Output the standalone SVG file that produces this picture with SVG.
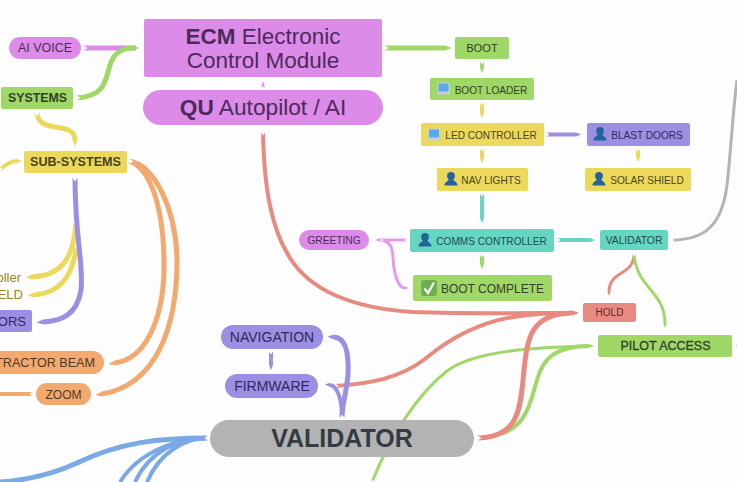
<svg xmlns="http://www.w3.org/2000/svg" width="737" height="482" viewBox="0 0 737 482">
<style>
text{font-family:"Liberation Sans",Arial,sans-serif;text-anchor:middle}
.end{text-anchor:end}
.c{fill:none;stroke-linecap:butt;marker-start:url(#notch)}
.w5{stroke-width:5}.w4{stroke-width:4}.w3{stroke-width:3}
.pk{stroke:#e59bec;marker-end:url(#t-pk)}
.gr{stroke:#9fd867;marker-end:url(#t-gr)}.ye{stroke:#ecd95c;marker-end:url(#t-ye)}.or{stroke:#f3a86d;marker-end:url(#t-or)}.vi{stroke:#9b8fe3;marker-end:url(#t-vi)}.te{stroke:#66d6c0;marker-end:url(#t-te)}.re{stroke:#e98a80;marker-end:url(#t-re)}.bl{stroke:#7aa9e6}.gy{stroke:#b3b3b3}
.fp{fill:#dc8be8}.fg{fill:#9fd867}.fy{fill:#ecd95c}.fo{fill:#f3a86d}.fv{fill:#9b8fe3}.ft{fill:#66d6c0}.fr{fill:#e98a80}.fa{fill:#b3b3b3}
.tp{fill:#4d2a5c}.tg{fill:#33402a}.ty{fill:#4a4320}.to{fill:#4f3a28}.tv{fill:#2f2a5a}.tt{fill:#1f4a52}.tr{fill:#5a2a2a}
.person{fill:#23629a}
</style>
<defs>
<marker id="notch" markerUnits="strokeWidth" markerWidth="2" markerHeight="2" refX="0" refY="1" orient="auto" viewBox="0 0 2 2"><path d="M0 .4V1.600L.9 1Z" fill="#fdfdfd"/></marker>
<marker id="t-pk" markerUnits="strokeWidth" markerWidth="2" markerHeight="2" refX="0" refY="1" orient="auto" viewBox="0 0 2 2"><path d="M0 .5V1.500L1.300 1Z" fill="#e59bec"/></marker>
<marker id="t-gr" markerUnits="strokeWidth" markerWidth="2" markerHeight="2" refX="0" refY="1" orient="auto" viewBox="0 0 2 2"><path d="M0 .5V1.500L1.300 1Z" fill="#9fd867"/></marker>
<marker id="t-ye" markerUnits="strokeWidth" markerWidth="2" markerHeight="2" refX="0" refY="1" orient="auto" viewBox="0 0 2 2"><path d="M0 .5V1.500L1.300 1Z" fill="#ecd95c"/></marker>
<marker id="t-or" markerUnits="strokeWidth" markerWidth="2" markerHeight="2" refX="0" refY="1" orient="auto" viewBox="0 0 2 2"><path d="M0 .5V1.500L1.300 1Z" fill="#f3a86d"/></marker>
<marker id="t-vi" markerUnits="strokeWidth" markerWidth="2" markerHeight="2" refX="0" refY="1" orient="auto" viewBox="0 0 2 2"><path d="M0 .5V1.500L1.300 1Z" fill="#9b8fe3"/></marker>
<marker id="t-te" markerUnits="strokeWidth" markerWidth="2" markerHeight="2" refX="0" refY="1" orient="auto" viewBox="0 0 2 2"><path d="M0 .5V1.500L1.300 1Z" fill="#66d6c0"/></marker>
<marker id="t-re" markerUnits="strokeWidth" markerWidth="2" markerHeight="2" refX="0" refY="1" orient="auto" viewBox="0 0 2 2"><path d="M0 .5V1.500L1.300 1Z" fill="#e98a80"/></marker>
<g id="person"><circle cx="0" cy="-3" r="3.900"/><path d="M-6.500 6.500C-6.500 3-3 2.500-1.800 0H1.800C3 2.500 6.500 3 6.500 6.500Z"/></g>
<g id="laptop"><rect x="-5.500" y="-6" width="11" height="9" fill="#5aa9e8" stroke="#c9d3da"/><rect x="-6.500" y="3" width="13" height="2.500" fill="#c4ced6"/></g>
</defs>
<rect width="737" height="482" fill="#fdfdfd"/>
<g id="connectors">
<path class="c pk w5" style="stroke:#dc8be8;marker-end:none" d="M83 48H136"/>
<path class="c gr w5" d="M76 98C105 96 105 82 110 65C115 50 125 48 133 48"/>
<path class="c gr w5" d="M384 48H445"/>
<path class="c pk w3" d="M263 89V85"/>
<path class="c gr w4" d="M482 61V68"/>
<path class="c ye w4" d="M482 102V113"/>
<path class="c ye w4" d="M482 148V158"/>
<path class="c vi w4" d="M546 134.500H576"/>
<path class="c ye w4" d="M638 148V157"/>
<path class="c te w4" d="M482 193V218"/>
<path class="c gr w4" d="M482 254V264"/>
<path class="c te w4" d="M557 240H590"/>
<path class="c gy w3" d="M672 240C705 240 722 225 727 185C731 150 733 110 737 80"/>
<path class="c pk w3" d="M407 240H379"/>
<path class="c pk w3" d="M381 240C395 242 392 255 394 268C396 280 400 288 405 288"/>
<path class="c re w3" d="M634 254C634 276 609 270 609 292"/>
<path class="c gr w3" d="M634 254C637 290 665 290 665 324"/>
<path class="c ye w5" d="M37 112C37 135 75 120 75 140"/>
<path class="c ye w4" d="M0 170C5 165 10 161 17 161"/>
<path class="c ye w5" d="M76 222C74 262 58 276 32 277"/>
<path class="c ye w5" d="M77 245C72 280 58 293 34 295"/>
<path class="c vi w5" d="M75 177C75 240 84 265 81 290C77 316 60 321 43 322"/>
<path class="c or w5" d="M129 161C150 168 163 205 164 260C165 310 150 358 115 363"/>
<path class="c or w5" d="M129 161C155 165 176 210 177 260C177 330 155 385 102 394"/>
<path class="c or w4" d="M33 394H0" style="marker-end:none"/>
<path class="c gr w4" d="M477 438C525 436 528 410 537 380C543 358 555 347 588 346"/>
<path class="c gr w3" d="M372 482C392 432 420 392 447 371C475 350 540 347 590 346"/>
<path class="c gr w3" d="M735 346H737" style="marker-end:none"/>
<path class="c re w4" d="M263 132C264 190 272 230 290 258C310 290 350 308 413 312C470 314 530 313 573 313"/>
<path class="c re w4" d="M335 386C370 384 400 378 425 359C450 338 480 321 520 316C540 313 560 313 573 313"/>
<path class="c re w5" d="M477 438C515 437 520 415 523 380C527 340 528 314 572 313"/>
<path class="c vi w5" d="M342 418C342 405 346 395 348 375C349 350 345 338 334 337"/>
<path class="c vi w4" d="M342 418C342 398 337 386 330 385"/>
<path class="c vi w4" d="M271 351V365"/>
<path class="c bl w5" d="M208 438C160 438 120 442 77 463C55 473 30 480 0 482"/>
<path class="c bl w4" d="M208 438C180 438 140 450 120 482"/>
<path class="c bl w4" d="M208 438C180 438 150 450 135 482"/>
<path class="c bl w4" d="M208 438C185 438 160 452 147 482"/>
</g>
<g id="node-ecm"><rect class="fp" x="144" y="19" width="238" height="58" rx="2"/><text x="263" y="44" font-size="22.500" class="tp"><tspan font-weight="700">ECM</tspan> Electronic</text><text x="263" y="68" font-size="22.500" class="tp">Control Module</text></g>
<g id="node-qu"><rect class="fp" x="143" y="90" width="240" height="35" rx="17.500"/><text x="263" y="115" font-size="22.700" class="tp"><tspan font-weight="700">QU</tspan> Autopilot / AI</text></g>
<g id="node-aivoice"><rect class="fp" x="9" y="37" width="72" height="22" rx="11"/><text x="45" y="52" font-size="12.500" class="tp">AI VOICE</text></g>
<g id="node-systems"><rect class="fg" x="1" y="87" width="72" height="22" rx="2"/><text x="37.500" y="102" font-size="12.400" font-weight="700" class="tg">SYSTEMS</text></g>
<g id="node-subsystems"><rect class="fy" x="24" y="151" width="103" height="22" rx="2"/><text x="75.500" y="166" font-size="12.600" font-weight="700" class="ty">SUB-SYSTEMS</text></g>
<g id="node-ledctl-left"><text x="21" y="282" font-size="13" fill="#9a8420" class="end">oller</text></g>
<g id="node-shield-left"><text x="23" y="299" font-size="13" fill="#9a8420" class="end">ELD</text></g>
<g id="node-doors-left"><rect class="fv" x="-40" y="310" width="72" height="22" rx="2"/><text x="26" y="326" font-size="13" class="tv end">ORS</text></g>
<g id="node-tractor"><rect class="fo" x="-30" y="351" width="134" height="23" rx="11.500"/><text x="95" y="367" font-size="12.600" class="to end">TRACTOR BEAM</text></g>
<g id="node-zoom"><rect class="fo" x="36" y="383" width="55" height="22" rx="11"/><text x="63.500" y="399" font-size="12" class="to">ZOOM</text></g>
<g id="node-boot"><rect class="fg" x="455" y="37" width="54" height="22" rx="2"/><text x="482" y="52" font-size="11.200" class="tg">BOOT</text></g>
<g id="node-bootloader"><rect class="fg" x="430" y="78" width="104" height="22" rx="2"/><use href="#laptop" x="443.500" y="89"/><text x="491" y="94" font-size="10.100" class="tg">BOOT LOADER</text></g>
<g id="node-led"><rect class="fy" x="421" y="123" width="123" height="23" rx="2"/><use href="#laptop" x="434" y="135"/><text x="491" y="139" font-size="10.100" class="ty">LED CONTROLLER</text></g>
<g id="node-blast"><rect class="fv" x="587" y="123" width="103" height="23" rx="2"/><use href="#person" class="person" x="600" y="134"/><text x="647" y="139" font-size="10.100" class="tv">BLAST DOORS</text></g>
<g id="node-nav"><rect class="fy" x="437" y="168" width="91" height="23" rx="2"/><use href="#person" class="person" x="451" y="179"/><text x="491" y="184" font-size="10.100" class="ty">NAV LIGHTS</text></g>
<g id="node-solar"><rect class="fy" x="585" y="168" width="106" height="23" rx="2"/><use href="#person" class="person" x="599" y="179"/><text x="647" y="184" font-size="10.100" class="ty">SOLAR SHIELD</text></g>
<g id="node-comms"><rect class="ft" x="410" y="229" width="144" height="23" rx="2"/><use href="#person" class="person" x="425" y="240"/><text x="491.500" y="245" font-size="10.100" class="tt">COMMS CONTROLLER</text></g>
<g id="node-validator-small"><rect class="ft" x="600" y="230" width="68" height="20" rx="2"/><text x="634" y="244" font-size="10.300" class="tt">VALIDATOR</text></g>
<g id="node-greeting"><rect class="fp" x="299" y="230" width="70" height="20" rx="10"/><text x="334" y="244" font-size="10.200" class="tp">GREETING</text></g>
<g id="node-bootcomplete"><rect class="fg" x="413" y="275" width="139" height="26" rx="2"/><rect x="421" y="280" width="16" height="16" rx="3" fill="#6fae4f"/><path d="M424.500 288.500L428 293L434 282.500" fill="none" stroke="#fff" stroke-width="2.200"/><text x="492.500" y="293" font-size="12" class="tg">BOOT COMPLETE</text></g>
<g id="node-hold"><rect class="fr" x="583" y="303" width="53" height="19" rx="2"/><text x="609.500" y="316" font-size="10" class="tr">HOLD</text></g>
<g id="node-pilot"><rect class="fg" x="598" y="335" width="134" height="22" rx="2"/><text x="665.500" y="350" font-size="12.500" class="tg" stroke="#33402a" stroke-width=".3">PILOT ACCESS</text></g>
<g id="node-navigation"><rect class="fv" x="221" y="325" width="102" height="24" rx="12"/><text x="272" y="342" font-size="14" class="tv">NAVIGATION</text></g>
<g id="node-firmware"><rect class="fv" x="225" y="374" width="93" height="24" rx="12"/><text x="272" y="391" font-size="14" class="tv">FIRMWARE</text></g>
<g id="node-validator"><rect class="fa" x="210" y="420" width="264" height="37" rx="18.500"/><text x="342" y="447" font-size="25" font-weight="700" fill="#333c44">VALIDATOR</text></g>
</svg>
